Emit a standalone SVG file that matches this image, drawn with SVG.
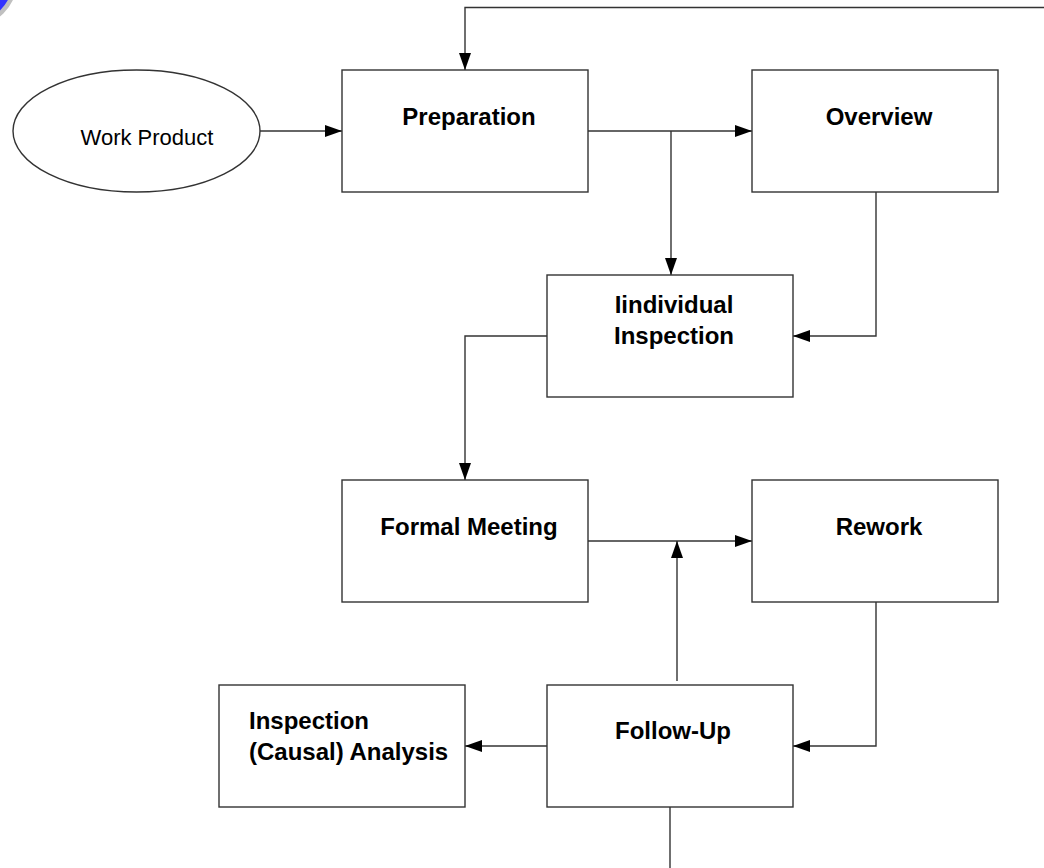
<svg xmlns="http://www.w3.org/2000/svg" width="1044" height="868" viewBox="0 0 1044 868">
<defs>
<style>
.box{fill:#fff;stroke:#333;stroke-width:1.4}
.lbl{font-family:"Liberation Sans",Arial,sans-serif;font-size:24px;font-weight:bold;fill:#000;text-anchor:middle}
.lblL{font-family:"Liberation Sans",Arial,sans-serif;font-size:24px;font-weight:bold;fill:#000}
.reg{font-family:"Liberation Sans",Arial,sans-serif;font-size:22px;fill:#000;text-anchor:middle}
.ln{fill:none;stroke:#333;stroke-width:1.4}
</style>
<marker id="ah" markerUnits="userSpaceOnUse" markerWidth="18" markerHeight="12" refX="17" refY="6" orient="auto">
<path d="M0,0 L17,6 L0,12 Z" fill="#000"/>
</marker>
</defs>
<rect width="1044" height="868" fill="#fff"/>
<circle cx="-30" cy="-20" r="45" fill="#3333ff" stroke="#c0c0c0" stroke-width="4.5"/>
<g id="connectors">
<path class="ln" d="M260,131 L342,131" marker-end="url(#ah)"/>
<path class="ln" d="M1044,7.5 L465,7.5 L465,70" marker-end="url(#ah)"/>
<path class="ln" d="M588,131 L752,131" marker-end="url(#ah)"/>
<path class="ln" d="M671,131 L671,275" marker-end="url(#ah)"/>
<path class="ln" d="M876,192 L876,336 L793,336" marker-end="url(#ah)"/>
<path class="ln" d="M547,336 L465,336 L465,480" marker-end="url(#ah)"/>
<path class="ln" d="M588,541 L752,541" marker-end="url(#ah)"/>
<path class="ln" d="M677,681 L677,541" marker-end="url(#ah)"/>
<path class="ln" d="M876,602 L876,746 L793,746" marker-end="url(#ah)"/>
<path class="ln" d="M547,746 L465,746" marker-end="url(#ah)"/>
<path class="ln" d="M670,807 L670,868"/>
</g>
<g id="work-product">
<ellipse class="box" cx="136.5" cy="131" rx="123.5" ry="61"/>
<text class="reg" x="147" y="145">Work Product</text>
</g>
<g id="preparation">
<rect class="box" x="342" y="70" width="246" height="122"/>
<text class="lbl" x="469" y="125">Preparation</text>
</g>
<g id="overview">
<rect class="box" x="752" y="70" width="246" height="122"/>
<text class="lbl" x="879" y="125">Overview</text>
</g>
<g id="individual-inspection">
<rect class="box" x="547" y="275" width="246" height="122"/>
<text class="lbl" x="674" y="313">Iindividual</text>
<text class="lbl" x="674" y="344">Inspection</text>
</g>
<g id="formal-meeting">
<rect class="box" x="342" y="480" width="246" height="122"/>
<text class="lbl" x="469" y="535">Formal Meeting</text>
</g>
<g id="rework">
<rect class="box" x="752" y="480" width="246" height="122"/>
<text class="lbl" x="879" y="535">Rework</text>
</g>
<g id="follow-up">
<rect class="box" x="547" y="685" width="246" height="122"/>
<text class="lbl" x="673" y="739">Follow-Up</text>
</g>
<g id="inspection-analysis">
<rect class="box" x="219" y="685" width="246" height="122"/>
<text class="lblL" x="249" y="729">Inspection</text>
<text class="lblL" x="249" y="760">(Causal) Analysis</text>
</g>
</svg>
